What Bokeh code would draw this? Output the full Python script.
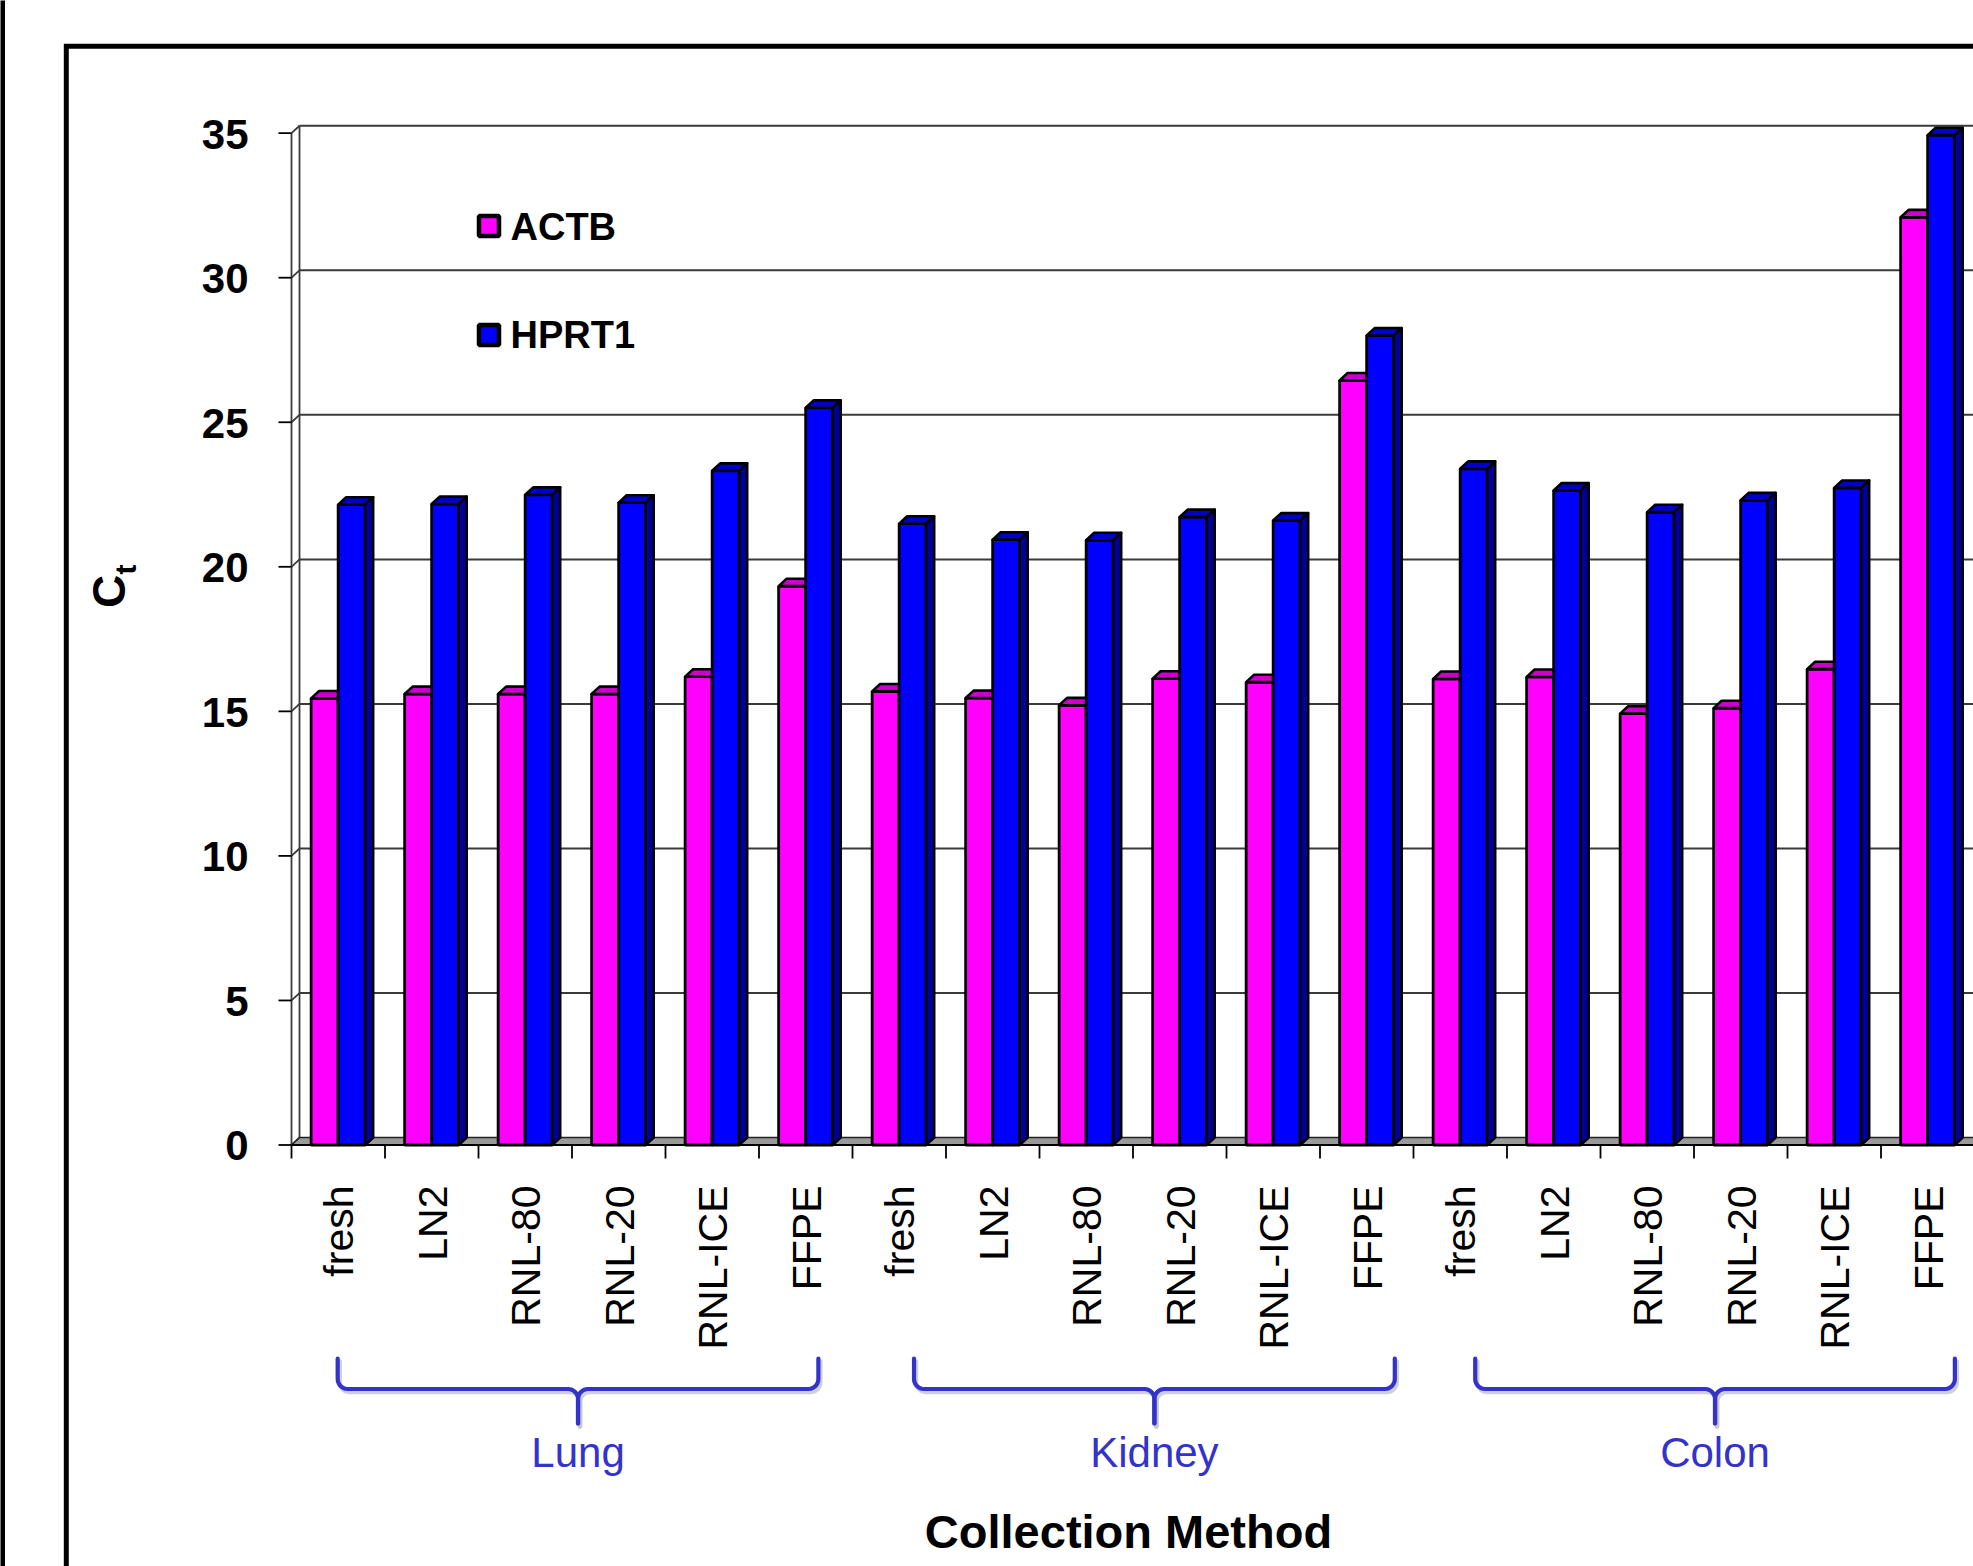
import numpy as np
from bokeh.plotting import figure
from bokeh.models import Range1d
from bokeh.core.properties import value
from bokeh.embed import file_html
from bokeh.resources import INLINE

# ---- data -------------------------------------------------------------
tissues = ["Lung", "Kidney", "Colon"]
methods = ["fresh", "LN2", "RNL-80", "RNL-20", "RNL-ICE", "FFPE"]
series_names = ["ACTB", "HPRT1"]

actb = [15.45, 15.60, 15.60, 15.60, 16.20, 19.33,
        15.69, 15.46, 15.21, 16.13, 16.01, 26.45,
        16.12, 16.19, 14.92, 15.11, 16.46, 32.09]
hprt1 = [22.15, 22.17, 22.49, 22.22, 23.32, 25.50,
         21.49, 20.94, 20.92, 21.72, 21.60, 28.00,
         23.39, 22.64, 21.89, 22.30, 22.73, 34.93]

y_ticks = [0, 5, 10, 15, 20, 25, 30, 35]
x_title = "Collection Method"

# ---- styling ------------------------------------------------------------
face_colors = ["#FF00FF", "#0000FF"]
top_colors = ["#CC00CC", "#0000CC"]
side_colors = ["#B000B0", "#000099"]
brace_color = "#3333CC"
FONT = value("Liberation Sans")

# canvas geometry (pixels) and the scale that maps data onto it
W, H = 1973, 1566
X0_PX, Y0_PX = 291.0, 1144.5      # where category 0 / Ct = 0 sit
CAT_PX, UNIT_PX = 93.5, 28.91      # one category, one Ct unit
BASE_FIX = 0.36                    # svg baseline correction, in em


def px_w(d):
    return d / CAT_PX


def px_h(d):
    return d / UNIT_PX


def sx(px):
    return (px - X0_PX) / CAT_PX


def sy(py):
    return (Y0_PX - py) / UNIT_PX


def lift(fs):
    """Vertical baseline correction (data units) for a horizontal text."""
    return px_h(BASE_FIX * fs)


def lift_rot(fs):
    """Same correction for text turned by 90 degrees."""
    return px_w(BASE_FIX * fs)


DX, DY = px_w(8.0), px_h(7.4)      # depth of the 3-D box
BAR_OFF, BAR_W = 0.21, 0.289

n = len(actb)
x_end = sx(W)

p = figure(width=W, height=H, output_backend="svg", toolbar_location=None,
           x_range=Range1d(sx(0), x_end), y_range=Range1d(sy(H), sy(0)),
           x_axis_type=None, y_axis_type=None, min_border=0,
           background_fill_color="white", border_fill_color="white")
p.outline_line_color = None

# ---- walls, floor and grid -----------------------------------------------
grid_col = "#3a3a3a"
gt = [t for t in y_ticks if t > 0]
p.segment(x0=[DX] * len(gt), y0=[t + DY for t in gt],
          x1=[x_end + 1] * len(gt), y1=[t + DY for t in gt],
          line_color=grid_col, line_width=2)
p.segment(x0=[0] * len(y_ticks), y0=y_ticks,
          x1=[DX] * len(y_ticks), y1=[t + DY for t in y_ticks],
          line_color=grid_col, line_width=1.8)
top = max(y_ticks)
p.segment(x0=[0, DX], y0=[0, DY], x1=[0, DX], y1=[top, top + DY],
          line_color=grid_col, line_width=1.8)

p.patch([0, x_end + 1, x_end + 1 + DX, DX], [0, 0, DY, DY],
        fill_color="#9a9a9a", line_color="#222222", line_width=1.5)
p.segment(x0=[0], y0=[0], x1=[x_end + 1], y1=[0], line_color="black", line_width=2)

# y ticks on the front edge
p.segment(x0=[px_w(-13)] * len(y_ticks), y0=y_ticks,
          x1=[0] * len(y_ticks), y1=y_ticks, line_color="black", line_width=1.8)
# category ticks
cats = list(range(n + 1))
p.segment(x0=cats, y0=[0] * len(cats), x1=cats, y1=[-px_h(13.5)] * len(cats),
          line_color="black", line_width=1.8)

# ---- 3-D bars ---------------------------------------------------------------
for s, vals in enumerate([actb, hprt1]):
    left = [i + BAR_OFF + s * BAR_W for i in range(n)]
    right = [l + BAR_W for l in left]
    p.quad(left=left, right=right, bottom=0, top=vals,
           fill_color=face_colors[s], line_color="black", line_width=2.8)
    p.patches([[l, r, r + DX, l + DX] for l, r in zip(left, right)],
              [[v, v, v + DY, v + DY] for v in vals],
              fill_color=top_colors[s], line_color="black", line_width=2.6,
              line_join="round")
    p.patches([[r, r + DX, r + DX, r] for r in right],
              [[0, DY, v + DY, v] for v in vals],
              fill_color=side_colors[s], line_color="black", line_width=2.6,
              line_join="round")

# ---- y tick labels and axis title -----------------------------------------
fs = 42
p.text(x=[sx(248)] * len(y_ticks), y=[t - px_h(16) + lift(fs) for t in y_ticks],
       text=[str(t) for t in y_ticks], text_font=FONT, text_font_style="bold",
       text_font_size=f"{fs}px", text_align="right", text_baseline="alphabetic",
       text_color="black")
fs = 46
p.text(x=[sx(125) - lift_rot(fs)], y=[sy(591)], text=["C"], angle=np.pi / 2,
       text_font=FONT, text_font_style="bold", text_font_size=f"{fs}px",
       text_align="center", text_baseline="alphabetic", text_color="black")
fs = 30
p.text(x=[sx(136) - lift_rot(fs)], y=[sy(569)], text=["t"], angle=np.pi / 2,
       text_font=FONT, text_font_style="bold", text_font_size=f"{fs}px",
       text_align="center", text_baseline="alphabetic", text_color="black")

# ---- category labels ------------------------------------------------------------
fs = 41
cat_labels = methods * len(tissues)
p.text(x=[i + 0.5 + px_w(16) - lift_rot(fs) for i in range(n)], y=[sy(1185)] * n,
       text=cat_labels, angle=np.pi / 2, text_font=FONT, text_font_size=f"{fs}px",
       text_align="right", text_baseline="alphabetic", text_color="black")

# ---- group braces ----------------------------------------------------------------
brace_left = [0.494, 6.658, 12.66]
brace_right = [5.635, 11.80, 17.79]
y_top, y_h, y_tip = sy(1358), sy(1388.5), sy(1423)
rx, ry = px_w(10), px_h(10)
a = np.linspace(0, np.pi / 2, 8)


def half_brace(xl, xc):
    xs = [xl] + list(xl + rx - rx * np.cos(a)) + list(xc - rx + rx * np.sin(a)) + [xc]
    ys = [y_top] + list(y_h + ry - ry * np.sin(a)) + list(y_h - ry + ry * np.cos(a)) + [y_tip]
    return xs, ys


bx, by = [], []
for xl, xr in zip(brace_left, brace_right):
    xc = 0.5 * (xl + xr)
    hx, hy = half_brace(xl, xc)
    bx += [hx, [2 * xc - v for v in hx]]
    by += [hy, hy]

p.multi_line([[v + px_w(2) for v in xs] for xs in bx],
             [[v - px_h(3) for v in ys] for ys in by],
             line_color="#c4c4c4", line_width=4.5, line_alpha=0.8,
             line_join="round", line_cap="round")
p.multi_line(bx, by, line_color=brace_color, line_width=4.2,
             line_join="round", line_cap="round")

fs = 42
p.text(x=[0.5 * (l + r) for l, r in zip(brace_left, brace_right)],
       y=[sy(1467) + lift(fs)] * len(tissues), text=tissues, text_font=FONT,
       text_font_size=f"{fs}px", text_align="center", text_baseline="alphabetic",
       text_color=brace_color)

fs = 47
p.text(x=[sx(1128)], y=[sy(1548) + lift(fs)], text=[x_title], text_font=FONT,
       text_font_style="bold", text_font_size=f"{fs}px", text_align="center",
       text_baseline="alphabetic", text_color="black")

# ---- legend ----------------------------------------------------------------------
leg_y = [sy(225.5), sy(334.5)]
p.scatter(x=[sx(488.5)] * 2, y=leg_y, marker="square", size=20,
          fill_color=face_colors, line_color="black", line_width=4.5)
fs = 38
p.text(x=[sx(510)] * 2, y=[sy(240) + lift(fs), sy(348) + lift(fs)], text=series_names,
       text_font=FONT, text_font_style="bold", text_font_size=f"{fs}px",
       text_align="left", text_baseline="alphabetic", text_color="black")

# ---- outer frame -------------------------------------------------------------------
fx, fy = sx(65.8), sy(45.8)
p.line([fx, fx, x_end + 1], [sy(H) - 1, fy, fy], line_color="black",
       line_width=5, line_join="miter")
p.quad(left=[sx(0) - 1], right=[sx(4.5)], bottom=[sy(H) - 1], top=[sy(0) + 1],
       fill_color="black", line_color=None)

open("out.html", "w").write(file_html(p, INLINE))
